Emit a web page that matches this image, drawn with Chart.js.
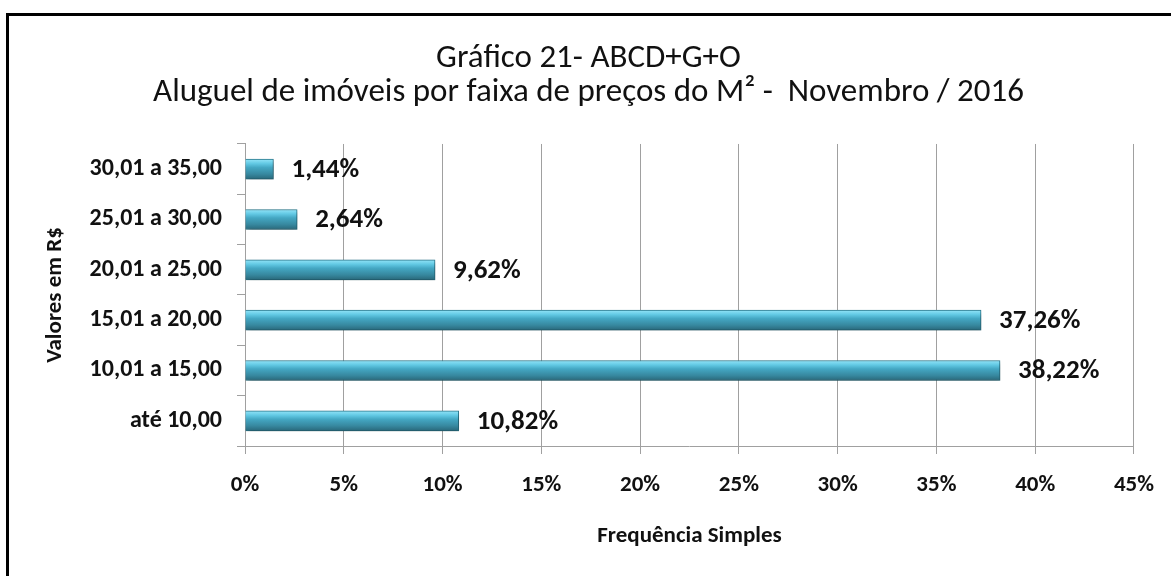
<!DOCTYPE html>
<html>
<head>
<meta charset="utf-8">
<script src="https://cdn.jsdelivr.net/npm/chart.js@4/dist/chart.umd.min.js"></script>
<style>
    html, body { margin: 0; padding: 0; background: #fff; }
    #wrap { position: relative; width: 1171px; height: 576px; overflow: hidden; }
    #frame {
        position: absolute; left: 6px; top: 13px; width: 1250px; height: 650px;
        border-left: 3px solid #000; border-top: 3px solid #000; pointer-events: none;
    }
    canvas { position: absolute; left: 0; top: 0; }
</style>
</head>
<body>
<div id="wrap">
    <canvas id="chart" width="1171" height="576"></canvas>
    <div id="frame"></div>
</div>
<script>
// faixas de preço do m² (de baixo para cima)
const categories = ["até 10,00", "10,01 a 15,00", "15,01 a 20,00", "20,01 a 25,00", "25,01 a 30,00", "30,01 a 35,00"];
const frequencies = [10.82, 38.22, 37.26, 9.62, 2.64, 1.44];
const titleLines = ["Gráfico 21- ABCD+G+O", "Aluguel de imóveis por faixa de preços do M² -  Novembro / 2016"];
const xAxisTitle = "Frequência Simples";
const yAxisTitle = "Valores em R$";

const FONT = "Carlito, Lato, 'Open Sans', sans-serif";
const gridGray = "#a0a0a0";
const barHalf = 10;

function barGradient(c) {
    const chart = c.chart;
    const y = chart.scales && chart.scales.y;
    if (!chart.chartArea || !y || c.dataIndex === undefined) return "#3f9fba";
    const mid = y.getPixelForValue(c.dataIndex);
    const g = chart.ctx.createLinearGradient(0, mid - barHalf, 0, mid + barHalf);
    g.addColorStop(0, "#93e4f8");
    g.addColorStop(0.22, "#62c9e4");
    g.addColorStop(0.42, "#44a7c3");
    g.addColorStop(0.75, "#37889f");
    g.addColorStop(1, "#29687a");
    return g;
}

const shadowPlugin = {
    id: "barShadow",
    beforeDatasetsDraw(chart) {
        const ctx = chart.ctx;
        ctx.save();
        ctx.shadowColor = "rgba(0,0,0,0.35)";
        ctx.shadowBlur = 5;
        ctx.shadowOffsetX = 2;
        ctx.shadowOffsetY = 3;
    },
    afterDatasetsDraw(chart) {
        chart.ctx.restore();
    }
};

const valueLabels = {
    id: "valueLabels",
    afterDraw(chart) {
        const ctx = chart.ctx;
        const meta = chart.getDatasetMeta(0);
        ctx.save();
        ctx.font = "bold 27px " + FONT;
        ctx.fillStyle = "#111";
        ctx.textAlign = "left";
        ctx.textBaseline = "middle";
        meta.data.forEach((bar, i) => {
            const txt = frequencies[i].toFixed(2).replace(".", ",") + "%";
            ctx.fillText(txt, bar.x + 18, bar.y + 1);
        });
        ctx.restore();
    }
};

new Chart(document.getElementById("chart").getContext("2d"), {
    type: "bar",
    data: {
        labels: categories,
        datasets: [{
            data: frequencies,
            backgroundColor: barGradient,
            borderColor: "#2c7a8f",
            borderWidth: 1,
            borderSkipped: "start",
            barThickness: 20
        }]
    },
    options: {
        indexAxis: "y",
        responsive: false,
        animation: false,
        layout: { padding: { left: 41, right: 35, top: 0, bottom: 0 } },
        plugins: {
            legend: { display: false },
            tooltip: { enabled: false },
            title: {
                display: true,
                text: titleLines,
                color: "#111",
                font: { family: FONT, size: 33, weight: "normal", lineHeight: 1.03 },
                padding: { top: 42, bottom: 34 }
            }
        },
        scales: {
            x: {
                min: 0,
                max: 45,
                ticks: {
                    stepSize: 5,
                    color: "#111",
                    padding: 17,
                    font: { family: FONT, size: 23, weight: "bold" },
                    callback: v => v + "%"
                },
                grid: { color: gridGray, tickLength: 8, lineWidth: 1 },
                border: { color: gridGray },
                title: {
                    display: true,
                    text: xAxisTitle,
                    color: "#111",
                    font: { family: FONT, size: 23, weight: "bold" },
                    padding: { top: 4, bottom: 26 }
                },
                afterFit(scale) { scale.height = 130; }
            },
            y: {
                reverse: true,
                ticks: {
                    color: "#111",
                    padding: 15,
                    font: { family: FONT, size: 24, weight: "bold" }
                },
                grid: { color: gridGray, drawOnChartArea: false, tickLength: 8 },
                border: { color: gridGray },
                title: {
                    display: true,
                    text: yAxisTitle,
                    color: "#111",
                    font: { family: FONT, size: 23, weight: "bold" },
                    padding: { top: 0, bottom: 0 }
                },
                afterFit(scale) { scale.width = 245 - 41; }
            }
        }
    },
    plugins: [shadowPlugin, valueLabels]
});
</script>
</body>
</html>
